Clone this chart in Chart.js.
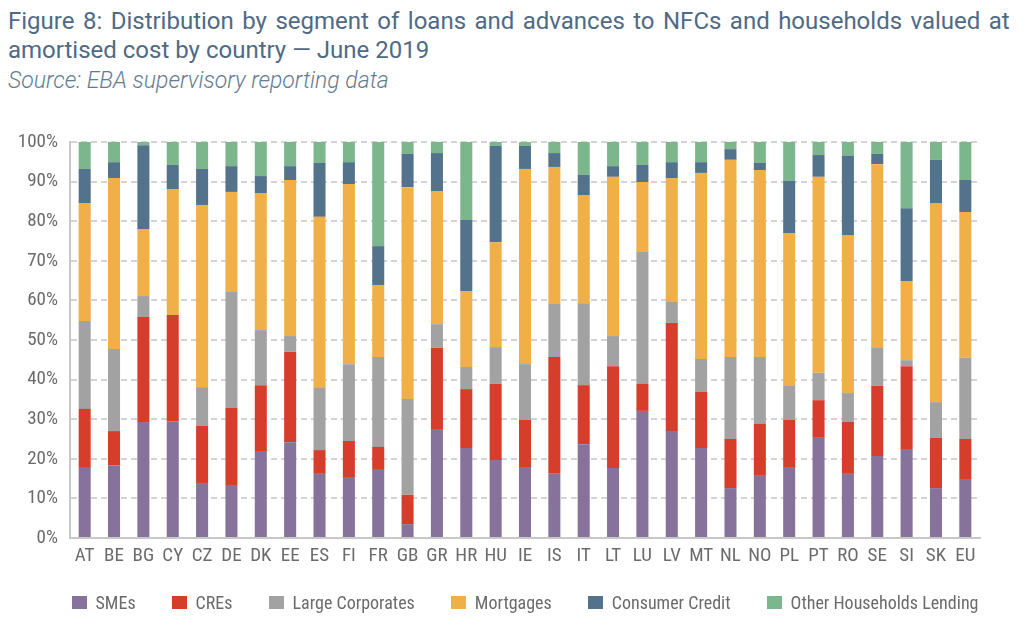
<!DOCTYPE html>
<html>
<head>
<meta charset="utf-8">
<script src="https://cdn.jsdelivr.net/npm/chart.js@4"></script>
<style>
  body { margin: 0; background: #fff; width: 1034px; height: 634px; overflow: hidden; position: relative; }
  #title { position: absolute; left: 8px; top: 7px; color: #4f6a85; font-family: Roboto, sans-serif; font-size: 24px; line-height: 29px; }
  #title div { white-space: nowrap; }
  #source { position: absolute; left: 8px; top: 67px; color: #647c93; font-family: Roboto, sans-serif; font-style: italic; font-weight: 300; font-size: 23px; }
  #wrap { position: absolute; left: 0; top: 100px; width: 1034px; height: 534px; }
  #legend { position: absolute; left: 70px; top: 589px; width: 910px; height: 26px; display: flex; justify-content: center; align-items: center; gap: 36px;
            font-family: "Roboto Condensed", Roboto, sans-serif; font-size: 18px; color: #6b6b6b; }
  #legend span.item { display: flex; align-items: center; white-space: nowrap; }
  #legend span.box { display: inline-block; width: 15px; height: 13px; margin-right: 9px; }
</style>
</head>
<body>
<div id="title">
  <div id="line1">Figure 8: Distribution by segment of loans and advances to NFCs and households valued at</div>
  <div>amortised cost by country — June 2019</div>
</div>
<div id="source">Source: EBA supervisory reporting data</div>
<div id="wrap"><canvas id="chart"></canvas></div>
<div id="legend"></div>
<script>
// countries on the x axis
const countries = ["AT","BE","BG","CY","CZ","DE","DK","EE","ES","FI","FR","GB","GR","HR","HU","IE","IS","IT","LT","LU","LV","MT","NL","NO","PL","PT","RO","SE","SI","SK","EU"];

// share of each segment, in percent
const smes      = [17.7,18.4,29.3,29.5,13.9,13.4,22.0,24.2,16.2,15.4,17.2, 3.5,27.5,22.7,19.7,17.9,16.2,23.7,17.7,32.1,27.0,22.7,12.6,15.7,17.9,25.3,16.2,20.7,22.5,12.6,14.9];
const cres      = [14.9, 8.6,26.5,26.8,14.4,19.4,16.6,22.8, 6.0, 9.1, 5.8, 7.4,20.5,14.9,19.2,11.9,29.5,14.9,25.7, 6.8,27.3,14.2,12.4,13.1,11.9, 9.5,13.1,17.7,20.9,12.7,10.1];
const largeCorp = [22.2,20.7, 5.3, 0.0, 9.8,29.3,13.9, 4.0,15.7,19.4,22.7,24.2, 6.0, 5.6, 9.3,14.1,13.4,20.7, 7.6,33.3, 5.3, 8.3,20.7,16.9, 8.6, 6.9, 7.3, 9.6, 1.5, 9.0,20.5];
const mortgages = [29.8,43.2,16.9,31.8,46.0,25.3,34.6,39.4,43.2,45.5,18.2,53.5,33.6,19.2,26.5,49.3,34.6,27.3,40.2,17.7,31.3,47.0,49.8,47.2,38.6,49.5,39.9,46.4,20.0,50.3,36.8];
const consumer  = [ 8.6, 4.0,21.2, 6.1, 9.1, 6.5, 4.3, 3.5,13.6, 5.5, 9.8, 8.4, 9.6,17.9,24.3, 5.8, 3.5, 5.1, 2.7, 4.3, 4.0, 2.7, 2.7, 1.8,13.2, 5.5,20.0, 2.6,18.4,10.9, 8.1];
const otherHh   = [ 6.8, 5.1, 0.8, 5.8, 6.8, 6.1, 8.6, 6.1, 5.3, 5.1,26.3, 3.0, 2.8,19.7, 1.0, 1.0, 2.8, 8.3, 6.1, 5.8, 5.1, 5.1, 1.8, 5.3, 9.8, 3.3, 3.5, 3.0,16.7, 4.5, 9.6];

const yTicks = [0,10,20,30,40,50,60,70,80,90,100];

// stretch the first title line to the full width, like justified text
const line1 = document.getElementById('line1');
const nSpaces = line1.textContent.split(' ').length - 1;
line1.style.wordSpacing = ((1002 - line1.offsetWidth) / nSpaces) + 'px';

const textColor = '#6b6b6b';
const fontFam = '"Roboto Condensed", Roboto, sans-serif';

function ds(label, data, color){
    return {
        label: label,
        data: data,
        backgroundColor: color,
        borderWidth: 0,
        barPercentage: 0.41,
        categoryPercentage: 1.0
    };
}

const chart = new Chart(document.getElementById('chart'), {
    type: 'bar',
    data: {
        labels: countries,
        datasets: [
            ds('SMEs', smes, '#86729a'),
            ds('CREs', cres, '#d63e2b'),
            ds('Large Corporates', largeCorp, '#a2a2a2'),
            ds('Mortgages', mortgages, '#f0af47'),
            ds('Consumer Credit', consumer, '#53728c'),
            ds('Other Households Lending', otherHh, '#7bb68d')
        ]
    },
    options: {
        responsive: true,
        maintainAspectRatio: false,
        animation: false,
        layout: {
            padding: { top: 42, right: 54, bottom: 51, left: 0 }
        },
        scales: {
            x: {
                stacked: true,
                grid: { display: false, drawTicks: false },
                border: { color: '#c8c8c8', width: 2 },
                ticks: { color: textColor, font: { family: fontFam, size: 19 }, padding: 7, maxRotation: 0, autoSkip: false },
                afterFit: function(scale){ scale.height = 45; }
            },
            y: {
                stacked: true,
                min: 0,
                max: 100,
                afterBuildTicks: function(scale){ scale.ticks = yTicks.map(v => ({ value: v })); },
                grid: { color: '#d4d4d4', lineWidth: 2, drawTicks: false },
                border: { color: '#c8c8c8', width: 2, dash: [6, 4] },
                ticks: {
                    color: textColor,
                    font: { family: fontFam, size: 19 },
                    padding: 12,
                    callback: v => v + '%'
                },
                afterFit: function(scale){ scale.width = 70; }
            }
        },
        plugins: {
            legend: { display: false },
            tooltip: { enabled: false }
        }
    }
});

// legend under the chart, built from the chart's datasets
const legendDiv = document.getElementById('legend');
for(const d of chart.data.datasets){
    const item = document.createElement('span');
    item.className = 'item';
    const box = document.createElement('span');
    box.className = 'box';
    box.style.background = d.backgroundColor;
    item.appendChild(box);
    item.appendChild(document.createTextNode(d.label));
    legendDiv.appendChild(item);
}
</script>
</body>
</html>
